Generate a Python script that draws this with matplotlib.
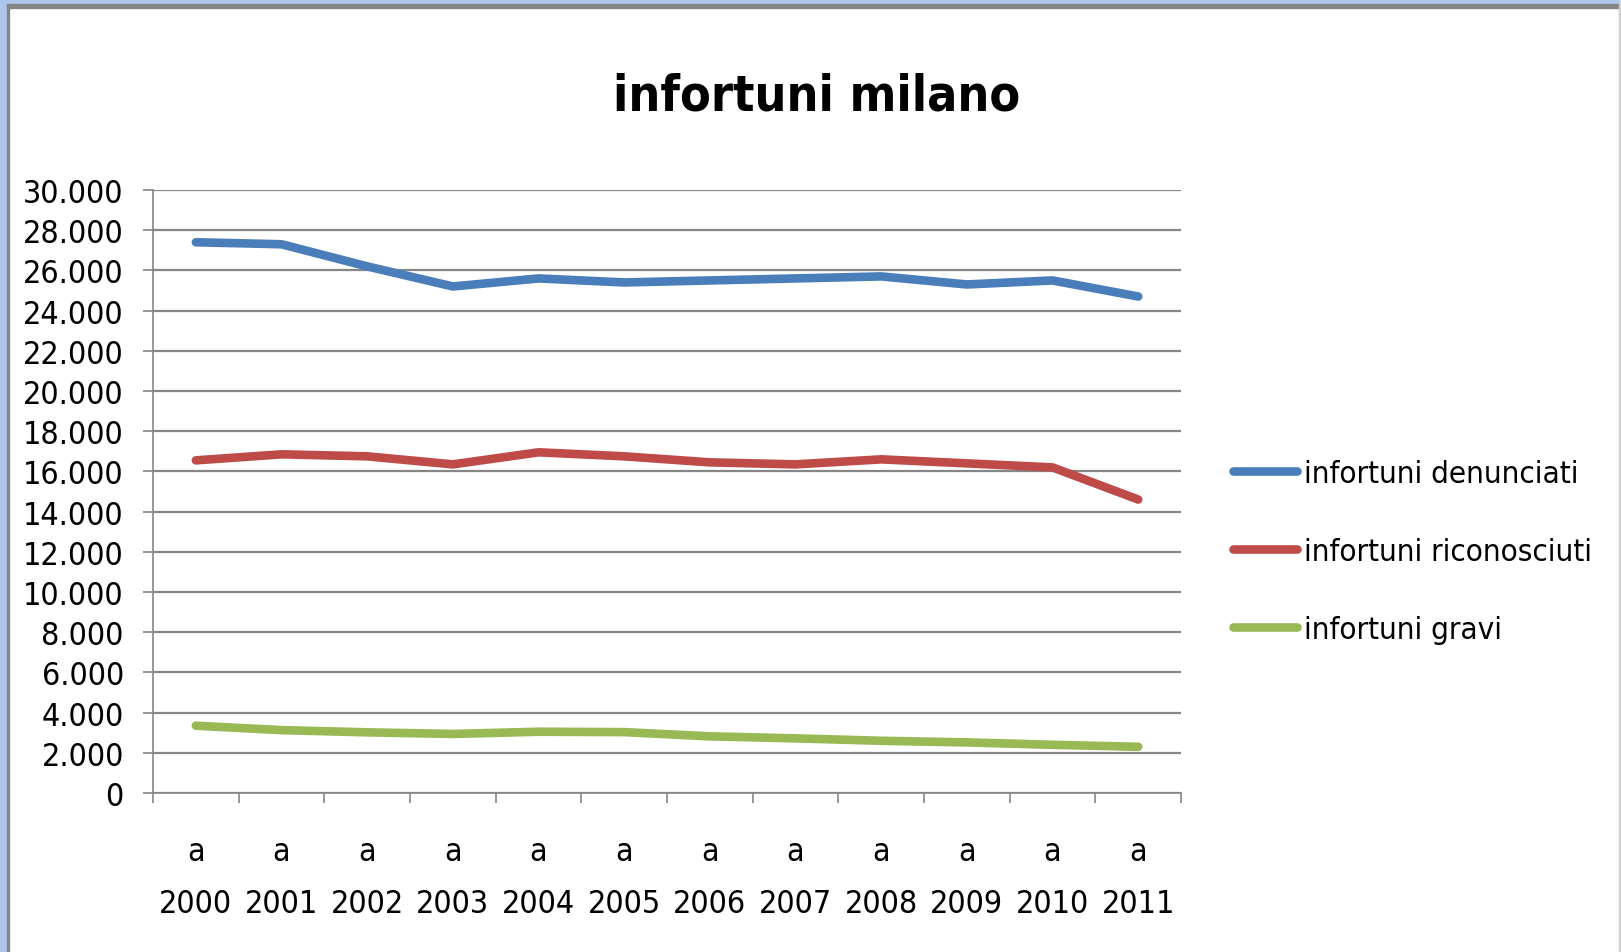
import matplotlib.pyplot as plt
import matplotlib.patches as mpatches
import numpy as np
from matplotlib.ticker import FuncFormatter

plt.rcParams['font.family'] = ['DejaVu Sans']
plt.rcParams['font.stretch'] = 'condensed'

# data
anni = ['2000', '2001', '2002', '2003', '2004', '2005',
        '2006', '2007', '2008', '2009', '2010', '2011']
denunciati = [27400, 27300, 26200, 25200, 25600, 25400,
              25500, 25600, 25700, 25300, 25500, 24700]
riconosciuti = [16550, 16850, 16750, 16350, 16950, 16750,
                16450, 16350, 16600, 16400, 16200, 14600]
gravi = [3350, 3130, 3020, 2940, 3050, 3030,
         2820, 2720, 2600, 2520, 2400, 2300]

serie = [
    ('infortuni denunciati', denunciati, '#4a7ebb'),
    ('infortuni riconosciuti', riconosciuti, '#be4b48'),
    ('infortuni gravi', gravi, '#98b954'),
]

fig = plt.figure(figsize=(16.21, 9.53), dpi=100)
ax = fig.add_axes([0.0944, 0.1668, 0.6342, 0.6328])

x = np.arange(len(anni))
for nome, val, col in serie:
    ax.plot(x, val, color=col, lw=6.2, solid_capstyle='round',
            solid_joinstyle='round', label=nome)

ax.set_ylim(0, 30000)
ax.set_yticks(np.arange(0, 30001, 2000))
ax.yaxis.set_major_formatter(FuncFormatter(lambda v, p: f'{int(v):,}'.replace(',', '.')))
ax.set_xlim(-0.5, len(anni) - 0.5)
ax.set_xticks(x)
ax.set_xticklabels(['a\n' + a for a in anni], linespacing=1.87)
ax.set_xticks(np.arange(-0.5, len(anni)), minor=True)

ax.grid(axis='y', color='#868686', lw=1.6)
ax.set_axisbelow(True)
for s in ['top', 'right']:
    ax.spines[s].set_visible(False)
for s in ['left', 'bottom']:
    ax.spines[s].set_color('#868686')
    ax.spines[s].set_linewidth(1.2)

ax.tick_params(axis='y', length=7, width=1.2, color='#868686', pad=14, labelsize=23)
ax.tick_params(axis='x', which='major', length=0, pad=31, labelsize=23)
ax.tick_params(axis='x', which='minor', length=7, width=1.2, color='#868686')

fig.text(0.504, 0.899, 'infortuni milano', ha='center', va='center',
         fontsize=36, fontweight='bold')

ax.legend(loc='center left', bbox_to_anchor=(1.0506, 0.401), frameon=False,
          fontsize=22.5, handlelength=2.05, handletextpad=0.22, labelspacing=1.57,
          borderpad=0, borderaxespad=0)

# window frame round the chart
fig.patches.append(mpatches.Rectangle((0, 1 - 5 / 953), 1, 5 / 953,
                                      transform=fig.transFigure, color='#aec6ec', zorder=0))
fig.patches.append(mpatches.Rectangle((0, 0), 7 / 1621, 1,
                                      transform=fig.transFigure, color='#aec6ec', zorder=0))
fig.patches.append(mpatches.Rectangle((7 / 1621, 1 - 9 / 953), 1, 4 / 953,
                                      transform=fig.transFigure, color='#858585', zorder=0))
fig.patches.append(mpatches.Rectangle((7 / 1621, 0), 2 / 1621, 1 - 5 / 953,
                                      transform=fig.transFigure, color='#858585', zorder=0))
fig.patches.append(mpatches.Rectangle((1 - 2 / 1621, 0), 2 / 1621, 1,
                                      transform=fig.transFigure, color='#d0d0d0', zorder=0))

fig.savefig('out.png', dpi=100)
